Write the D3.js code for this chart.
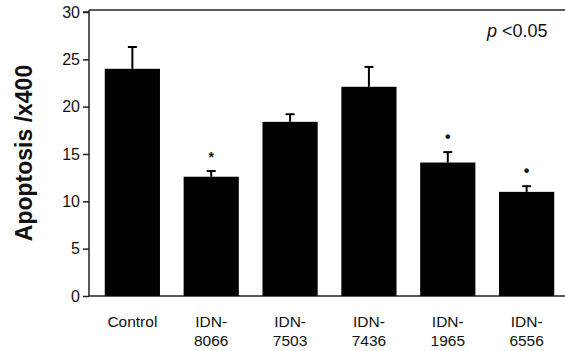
<html>

<head>
  <script src="https://d3js.org/d3.v7.min.js"></script>
  <style>
    body { margin: 0; background: #fff; }
    text { font-family: "Liberation Sans", Arial, sans-serif; fill: #111; }
  </style>
</head>

<body>
  <svg id="chart" width="565" height="351"></svg>

  <script>
    // values
    const groups = ["Control", "IDN-8066", "IDN-7503", "IDN-7436", "IDN-1965", "IDN-6556"];
    const labelLine1 = ["Control", "IDN-", "IDN-", "IDN-", "IDN-", "IDN-"];
    const labelLine2 = ["", "8066", "7503", "7436", "1965", "6556"];
    const means = [24.0, 12.6, 18.4, 22.1, 14.1, 11.0];
    const errors = [2.3, 0.6, 0.8, 2.1, 1.1, 0.6];
    const marks = ["", "*", "", "", "•", "•"];
    const yTicks = [0, 5, 10, 15, 20, 25, 30];

    const svg = d3.select("svg#chart");
    const margin = { top: 10, right: 0, bottom: 55, left: 89 };
    const width = +svg.attr("width");
    const height = +svg.attr("height");
    const y0 = 296;

    const xScale = d3.scaleBand()
      .domain(groups)
      .range([margin.left, 570])
      .paddingInner(0.3)
      .paddingOuter(0.2);

    const yScale = d3.scaleLinear()
      .domain([0, 30])
      .range([y0, 12]);

    // frame lines: top and bottom run across the full width
    svg.append("line")
      .attr("x1", margin.left).attr("x2", width)
      .attr("y1", margin.top).attr("y2", margin.top)
      .attr("stroke", "#222").attr("stroke-width", 1.5);

    svg.append("line")
      .attr("x1", margin.left).attr("x2", width)
      .attr("y1", y0).attr("y2", y0)
      .attr("stroke", "#222").attr("stroke-width", 1.5);

    const leftAxis = d3.axisLeft(yScale)
      .tickValues(yTicks)
      .tickSize(6)
      .tickPadding(3);

    const yAxis = svg.append("g")
      .attr("transform", `translate(${margin.left}, 0)`)
      .call(leftAxis);
    yAxis.select(".domain")
      .attr("d", `M-6,${yScale(30)}H0V${margin.top}V${y0}`)
      .attr("stroke", "#222").attr("stroke-width", 1.5);
    yAxis.selectAll(".tick line").attr("stroke", "#222").attr("stroke-width", 1.5);
    yAxis.selectAll(".tick text")
      .style("font-family", "'Liberation Sans', Arial, sans-serif")
      .style("font-size", "16px")
      .attr("fill", "#111");

    // bars
    svg.selectAll("rect.bar")
      .data(groups)
      .join("rect")
      .attr("class", "bar")
      .attr("x", d => xScale(d))
      .attr("width", xScale.bandwidth())
      .attr("y", (d, i) => yScale(means[i]))
      .attr("height", (d, i) => y0 - yScale(means[i]))
      .attr("fill", "#000");

    // error bars (upper only)
    const err = svg.selectAll("g.err")
      .data(groups)
      .join("g")
      .attr("class", "err");

    err.append("line")
      .attr("x1", d => xScale(d) + xScale.bandwidth() / 2)
      .attr("x2", d => xScale(d) + xScale.bandwidth() / 2)
      .attr("y1", (d, i) => yScale(means[i]))
      .attr("y2", (d, i) => yScale(means[i] + errors[i]))
      .attr("stroke", "#000").attr("stroke-width", 2);

    err.append("line")
      .attr("x1", d => xScale(d) + xScale.bandwidth() / 2 - 4.5)
      .attr("x2", d => xScale(d) + xScale.bandwidth() / 2 + 4.5)
      .attr("y1", (d, i) => yScale(means[i] + errors[i]))
      .attr("y2", (d, i) => yScale(means[i] + errors[i]))
      .attr("stroke", "#000").attr("stroke-width", 2);

    // significance marks
    svg.selectAll("text.mark")
      .data(groups)
      .join("text")
      .attr("class", "mark")
      .attr("text-anchor", "middle")
      .attr("x", d => xScale(d) + xScale.bandwidth() / 2)
      .attr("y", (d, i) => yScale(means[i] + errors[i]) - (marks[i] === "*" ? 9 : 10))
      .style("font-size", (d, i) => marks[i] === "*" ? "14px" : "16px")
      .style("font-weight", "bold")
      .text((d, i) => marks[i]);

    // x labels
    const xl = svg.selectAll("text.xlabel")
      .data(groups)
      .join("text")
      .attr("class", "xlabel")
      .attr("text-anchor", "middle")
      .attr("x", d => xScale(d) + xScale.bandwidth() / 2)
      .attr("y", 327)
      .style("font-size", "15.5px");
    xl.append("tspan").text((d, i) => labelLine1[i]);
    xl.append("tspan")
      .attr("x", d => xScale(d) + xScale.bandwidth() / 2)
      .attr("dy", 19)
      .text((d, i) => labelLine2[i]);

    // y axis title
    svg.append("text")
      .attr("text-anchor", "middle")
      .attr("transform", `translate(32, 153) rotate(-90)`)
      .style("font-size", "23px")
      .style("font-weight", "bold")
      .text("Apoptosis /x400");

    // p value note
    const note = svg.append("text")
      .attr("x", 487)
      .attr("y", 37)
      .style("font-size", "18px");
    note.append("tspan").style("font-style", "italic").text("p");
    note.append("tspan").text(" <0.05");
  </script>

</body>

</html>
